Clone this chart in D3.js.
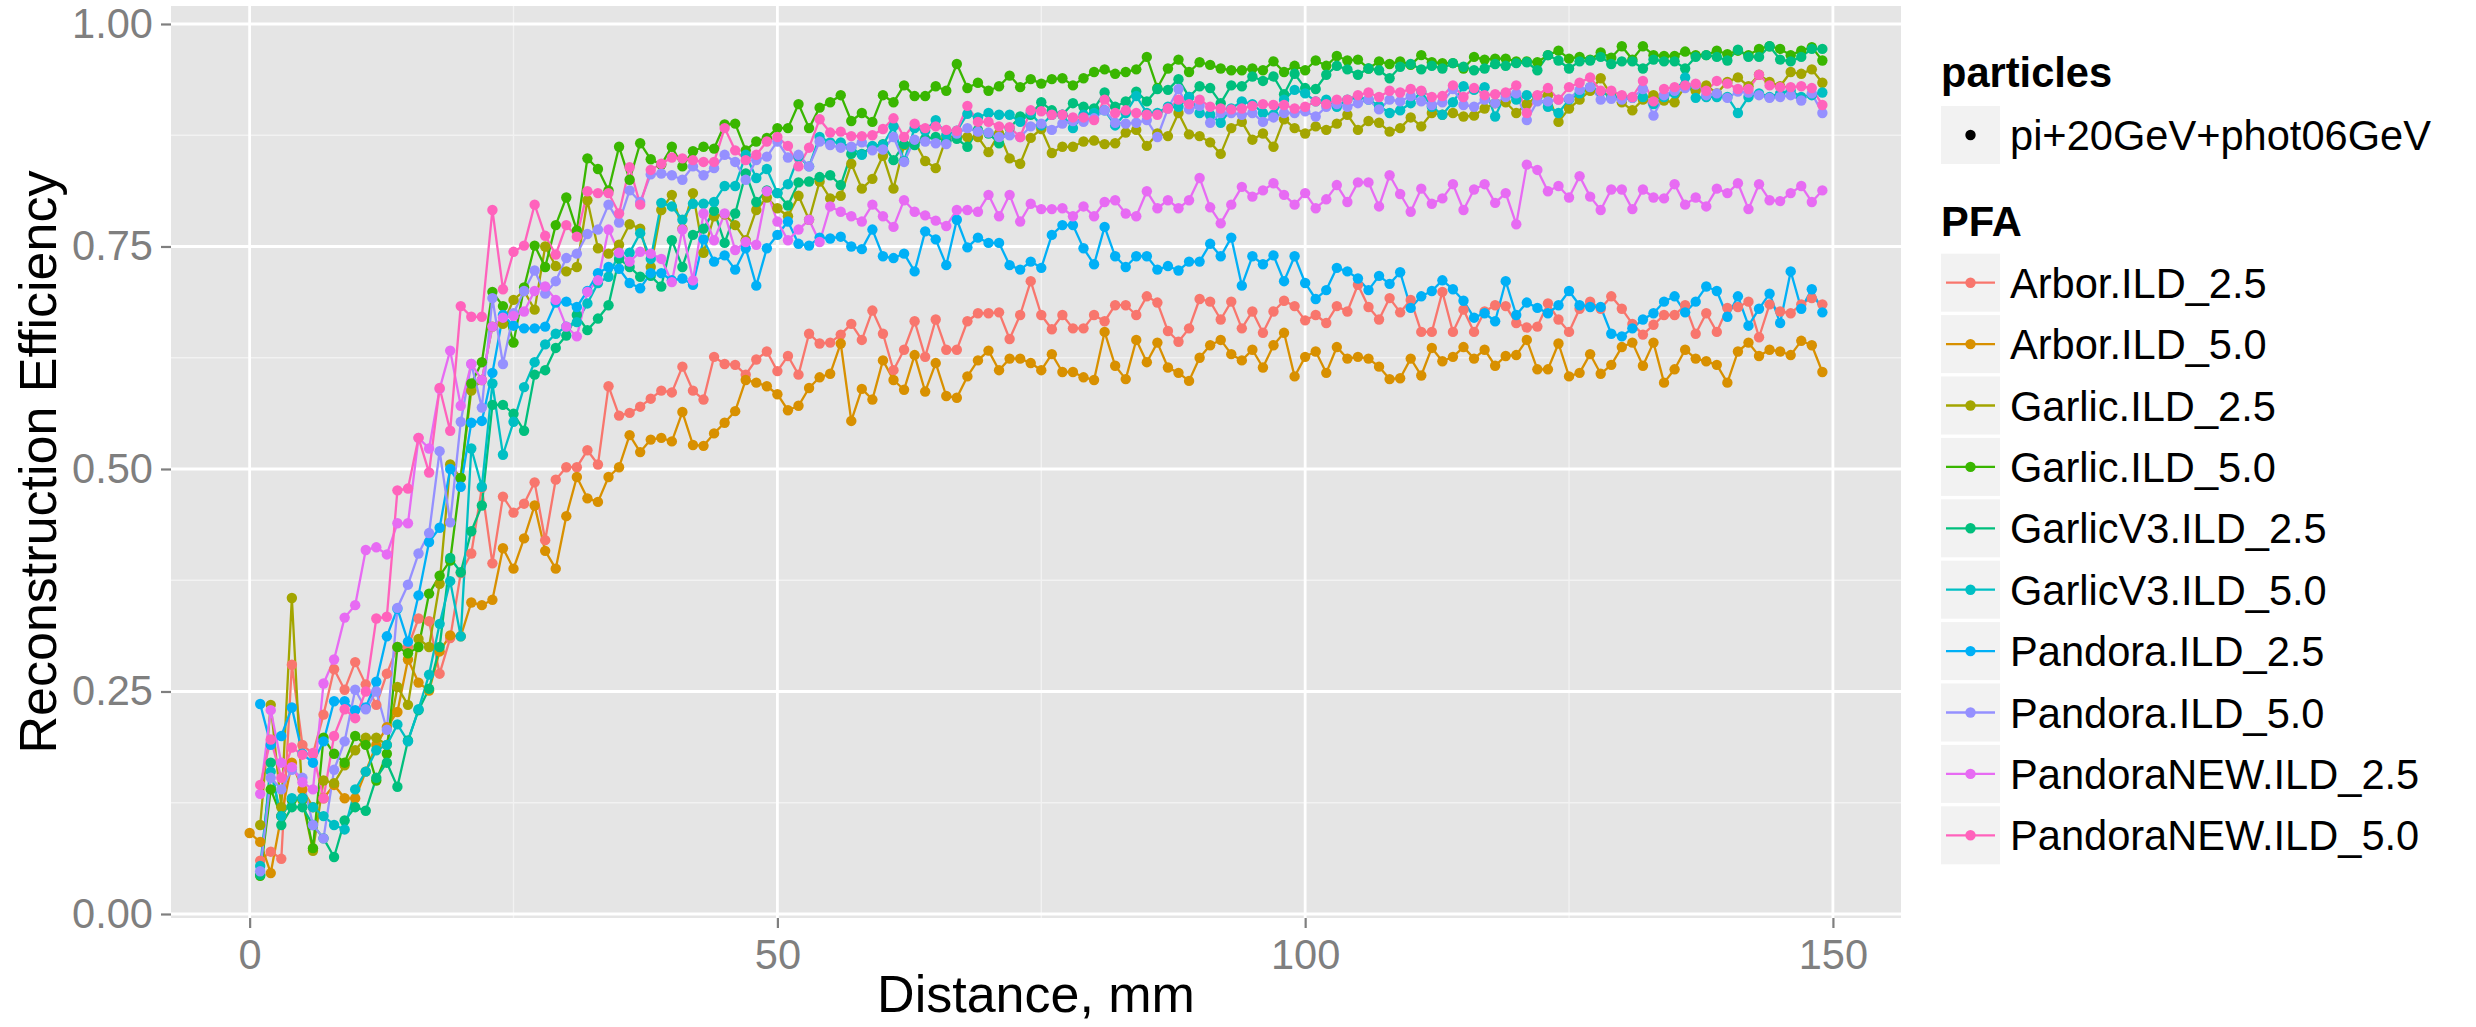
<!DOCTYPE html>
<html>
<head>
<meta charset="utf-8">
<script src="https://cdn.jsdelivr.net/npm/d3@7"></script>
<style>
  html, body { margin: 0; padding: 0; background: #ffffff; }
  svg { display: block; font-family: "Liberation Sans", Arial, Helvetica, sans-serif; }
</style>
</head>
<body>
<svg id="chart" width="2476" height="1027"></svg>
<script>
// Reconstruction efficiency versus distance (mm), one value per mm from 0 to 149.
// A null entry means the series has no point at that distance.
const arborILD25 = [null,
  .06,.07,.062,.28,.19,.18,.224,.275,.252,
  .283,.258,.235,.27,.30,.30,.332,.329,.27,.31,
  .383,.405,.479,.394,.469,.451,.461,.485,.42,.488,
  .502,.502,.521,.505,.593,.56,.563,.57,.579,.588,
  .586,.615,.588,.578,.626,.618,.617,.606,.623,.632,
  .61,.627,.606,.652,.641,.642,.651,.663,.645,.678,
  .652,.611,.634,.666,.626,.668,.634,.634,.666,.675,
  .675,.676,.646,.673,.711,.673,.657,.673,.658,.658,
  .673,.666,.684,.684,.673,.694,.687,.655,.643,.658,
  .691,.688,.668,.688,.658,.677,.653,.677,.689,.683,
  .667,.673,.664,.683,.677,.707,.682,.668,.692,.676,
  .69,.654,.654,.699,.654,.679,.654,.677,.684,.683,
  .664,.659,.66,.686,.668,.654,.68,.688,.68,.694,
  .68,.663,.651,.662,.673,.673,.684,.652,.675,.654,
  .681,.682,.688,.648,.685,.677,.675,.685,.692,.685];

const arborILD50 = [
  .091,.081,.046,.11,.17,.14,.12,.13,.145,.13,
  .13,.16,.19,.21,.227,.286,.26,.251,.295,.313,
  .312,.35,.347,.353,.411,.388,.422,.459,.408,.388,
  .447,.491,.467,.463,.491,.502,.538,.519,.533,.535,
  .531,.564,.527,.526,.54,.552,.565,.60,.597,.593,
  .584,.566,.571,.591,.603,.607,.641,.554,.59,.578,
  .622,.60,.589,.628,.587,.619,.582,.58,.604,.622,
  .633,.611,.624,.624,.619,.611,.629,.609,.609,.603,
  .60,.654,.616,.601,.645,.62,.642,.614,.608,.599,
  .625,.639,.645,.629,.622,.634,.614,.639,.653,.604,
  .626,.632,.608,.637,.624,.626,.624,.615,.601,.602,
  .624,.605,.636,.621,.626,.637,.624,.634,.616,.627,
  .628,.645,.612,.612,.641,.604,.608,.629,.607,.617,
  .637,.642,.616,.642,.597,.612,.634,.624,.621,.617,
  .597,.632,.642,.627,.634,.632,.628,.644,.639,.609];

const garlicILD25 = [null,
  .10,.235,.12,.355,.128,.071,.15,.147,.167,
  .184,.198,.198,.19,.255,.235,.309,.30,.371,.505,
  .49,.588,.60,.66,.663,.69,.70,.679,.75,.728,
  .722,.727,.802,.748,.742,.752,.775,.77,.727,.791,
  .808,.77,.81,.743,.784,.786,.774,.757,.791,.805,
  .793,.784,.807,.78,.823,.804,.807,.843,.815,.826,
  .852,.815,.864,.868,.846,.838,.872,.874,.873,.873,
  .856,.877,.849,.843,.872,.882,.855,.862,.862,.868,
  .869,.865,.866,.878,.881,.863,.877,.874,.90,.876,
  .874,.867,.854,.883,.89,.87,.877,.862,.893,.883,
  .877,.885,.881,.888,.898,.881,.891,.889,.879,.883,
  .895,.885,.90,.898,.90,.896,.897,.905,.911,.912,
  .90,.91,.919,.92,.89,.905,.915,.925,.939,.92,
  .912,.903,.915,.92,.914,.912,.93,.925,.931,.922,
  .935,.94,.93,.943,.935,.93,.946,.944,.949,.934];

const garlicILD50 = [null,
  .043,.14,.11,.128,.13,.074,.198,.18,.17,
  .20,.19,.15,.18,.30,.293,.30,.36,.38,.397,
  .49,.596,.62,.699,.683,.642,.704,.751,.727,.774,
  .805,.768,.849,.837,.813,.862,.825,.866,.848,.842,
  .862,.84,.857,.862,.86,.887,.888,.858,.868,.872,
  .883,.883,.91,.883,.906,.912,.92,.891,.90,.89,
  .92,.912,.931,.919,.919,.93,.925,.955,.928,.934,
  .925,.93,.942,.929,.938,.933,.938,.939,.931,.939,
  .946,.949,.944,.946,.949,.963,.928,.95,.96,.946,
  .957,.954,.95,.948,.948,.95,.948,.958,.946,.953,
  .948,.959,.953,.964,.959,.96,.95,.958,.955,.958,
  .954,.965,.957,.956,.956,.95,.963,.96,.961,.961,
  .958,.958,.957,.965,.97,.961,.963,.96,.968,.962,
  .975,.96,.975,.965,.964,.964,.969,.965,.965,.97,
  .966,.97,.965,.972,.975,.972,.965,.97,.974,.959];

const garlicV3ILD25 = [null,
  .044,.17,.10,.12,.12,.10,.085,.064,.105,
  .12,.116,.153,.17,.143,.195,.229,.253,.30,.40,
  .384,.43,.459,.572,.572,.562,.543,.606,.611,.636,
  .65,.673,.656,.669,.684,.736,.727,.716,.717,.705,
  .757,.727,.763,.77,.79,.754,.787,.832,.80,.813,
  .81,.796,.822,.823,.828,.83,.819,.854,.854,.862,
  .865,.847,.865,.864,.871,.873,.868,.871,.862,.881,
  .877,.866,.883,.896,.898,.912,.903,.898,.911,.907,
  .905,.923,.907,.913,.924,.913,.927,.926,.938,.918,
  .93,.928,.911,.931,.93,.941,.936,.941,.921,.944,
  .928,.927,.943,.953,.949,.943,.95,.948,.939,.952,
  .955,.949,.953,.95,.956,.952,.948,.95,.955,.953,
  .956,.957,.948,.965,.959,.95,.958,.959,.963,.955,
  .958,.958,.95,.96,.958,.958,.95,.963,.965,.963,
  .959,.971,.963,.963,.975,.96,.958,.963,.972,.972];

const garlicV3ILD50 = [null,
  .054,.16,.11,.13,.13,.12,.11,.10,.095,
  .14,.16,.184,.19,.213,.194,.23,.269,.326,.374,
  .312,.523,.48,.596,.516,.553,.592,.62,.64,.652,
  .66,.665,.686,.709,.716,.742,.743,.765,.736,.799,
  .795,.78,.798,.798,.80,.818,.818,.853,.827,.837,
  .81,.82,.851,.84,.873,.867,.867,.861,.853,.863,
  .864,.885,.846,.883,.88,.892,.875,.88,.899,.895,
  .90,.898,.898,.89,.90,.886,.898,.898,.883,.898,
  .90,.903,.886,.90,.919,.90,.90,.907,.907,.918,
  .90,.898,.889,.905,.913,.91,.90,.898,.915,.926,
  .922,.913,.915,.907,.915,.918,.915,.908,.90,.903,
  .911,.924,.907,.898,.912,.93,.926,.929,.896,.922,
  .915,.92,.918,.907,.90,.915,.922,.929,.924,.918,
  .918,.917,.918,.91,.918,.922,.94,.917,.918,.918,
  .918,.90,.918,.922,.918,.922,.925,.918,.92,.923];

const pandoraILD25 = [null,
  .236,.19,.20,.232,.18,.17,.194,.239,.239,
  .229,.232,.261,.312,.343,.306,.358,.418,.434,.50,
  .48,.552,.554,.608,.673,.661,.658,.658,.66,.687,
  .688,.682,.70,.72,.727,.725,.709,.703,.72,.72,
  .712,.714,.707,.758,.733,.74,.724,.748,.706,.748,
  .763,.778,.753,.751,.76,.759,.761,.75,.747,.769,
  .739,.737,.742,.722,.767,.758,.729,.78,.749,.76,
  .754,.754,.729,.724,.733,.726,.763,.774,.774,.748,
  .73,.772,.739,.727,.739,.739,.724,.728,.723,.733,
  .733,.753,.739,.76,.706,.739,.73,.74,.711,.739,
  .709,.691,.701,.726,.722,.714,.701,.717,.708,.721,
  .681,.694,.70,.712,.702,.689,.67,.675,.666,.711,
  .673,.687,.681,.675,.684,.70,.684,.682,.682,.652,
  .649,.658,.668,.675,.688,.694,.676,.688,.705,.70,
  .671,.694,.661,.68,.697,.664,.722,.68,.702,.676];

const pandoraILD50 = [null,
  .048,.153,.14,.162,.153,.10,.085,.162,.194,
  .252,.23,.25,.207,.344,.37,.405,.428,.52,.44,
  .553,.618,.569,.692,.618,.675,.70,.723,.697,.711,
  .737,.742,.764,.769,.797,.777,.813,.80,.831,.832,
  .83,.825,.84,.83,.838,.853,.845,.825,.847,.851,
  .868,.85,.853,.84,.868,.864,.861,.862,.867,.858,
  .859,.873,.845,.87,.868,.866,.865,.877,.883,.879,
  .878,.873,.875,.873,.885,.888,.881,.888,.891,.89,
  .894,.903,.889,.888,.889,.892,.873,.905,.927,.904,
  .908,.889,.90,.90,.898,.90,.89,.895,.90,.90,
  .902,.896,.907,.91,.907,.911,.915,.904,.915,.913,
  .919,.913,.909,.912,.927,.909,.907,.915,.911,.918,
  .922,.892,.913,.913,.915,.916,.926,.929,.915,.916,
  .915,.917,.927,.897,.92,.925,.928,.932,.92,.922,
  .917,.924,.923,.92,.917,.918,.92,.914,.922,.90];

const pandoraNewILD25 = [null,
  .135,.229,.17,.165,.148,.14,.259,.286,.333,
  .347,.409,.412,.404,.439,.439,.535,.523,.59,.633,
  .571,.618,.60,.66,.67,.672,.677,.70,.705,.69,
  .66,.649,.699,.712,.769,.743,.733,.744,.742,.736,
  .71,.769,.712,.787,.757,.787,.746,.755,.752,.812,
  .778,.757,.769,.78,.755,.795,.789,.784,.778,.797,
  .784,.772,.802,.789,.785,.779,.773,.791,.791,.789,
  .808,.784,.808,.778,.798,.792,.792,.793,.784,.795,
  .784,.80,.802,.787,.784,.812,.793,.802,.793,.802,
  .827,.794,.776,.797,.817,.806,.813,.821,.808,.797,
  .81,.793,.803,.819,.80,.822,.822,.795,.83,.809,
  .789,.815,.798,.804,.82,.791,.814,.82,.799,.81,
  .775,.842,.836,.812,.818,.805,.829,.806,.791,.814,
  .814,.792,.814,.805,.804,.82,.797,.805,.795,.815,
  .81,.821,.792,.82,.802,.801,.81,.818,.80,.813];

const pandoraNewILD50 = [null,
  .145,.196,.153,.187,.179,.181,.13,.20,.23,
  .22,.25,.332,.334,.476,.478,.535,.496,.591,.543,
  .683,.671,.671,.791,.702,.744,.751,.797,.762,.741,
  .774,.761,.812,.81,.81,.787,.839,.797,.836,.843,
  .85,.849,.847,.845,.845,.883,.858,.847,.853,.868,
  .873,.863,.84,.861,.893,.878,.879,.874,.874,.875,
  .882,.894,.873,.888,.883,.885,.881,.88,.908,.89,
  .89,.885,.884,.873,.903,.902,.898,.898,.895,.895,
  .892,.915,.90,.903,.90,.898,.898,.905,.915,.91,
  .915,.907,.905,.904,.905,.908,.91,.909,.909,.905,
  .907,.913,.91,.915,.915,.92,.923,.918,.925,.923,
  .927,.925,.918,.919,.931,.918,.928,.92,.921,.923,
  .931,.90,.92,.928,.915,.929,.934,.94,.925,.925,
  .92,.918,.936,.913,.927,.929,.931,.933,.925,.936,
  .933,.927,.927,.943,.931,.929,.929,.93,.928,.909];

// Legend / category names and their hue colours
const pfaLevels = ["Arbor.ILD_2.5", "Arbor.ILD_5.0", "Garlic.ILD_2.5", "Garlic.ILD_5.0",
  "GarlicV3.ILD_2.5", "GarlicV3.ILD_5.0", "Pandora.ILD_2.5", "Pandora.ILD_5.0",
  "PandoraNEW.ILD_2.5", "PandoraNEW.ILD_5.0"];
const pfaColors = ["#F8766D", "#D89000", "#A3A500", "#39B600", "#00BF7D",
  "#00BFC4", "#00B0F6", "#9590FF", "#E76BF3", "#FF62BC"];
const particleLevels = ["pi+20GeV+phot06GeV"];

// Axis ticks
const xTicks = [0, 50, 100, 150];
const xMinorTicks = [25, 75, 125];
const yTicks = [0, 0.25, 0.5, 0.75, 1.0];
const yTickLabels = ["0.00", "0.25", "0.50", "0.75", "1.00"];
const yMinorTicks = [0.125, 0.375, 0.625, 0.875];

const seriesValues = [arborILD25, arborILD50, garlicILD25, garlicILD50, garlicV3ILD25,
  garlicV3ILD50, pandoraILD25, pandoraILD50, pandoraNewILD25, pandoraNewILD50];

const series = pfaLevels.map((name, i) => ({
  name,
  color: pfaColors[i],
  points: seriesValues[i].map((v, d) => ({ d, v })).filter(p => p.v !== null)
}));

// ---- layout ----
const panel = { left: 171, right: 1901, top: 6, bottom: 918 };
const base = 52;
const small = base * 0.8;

const svg = d3.select("#chart");
svg.append("rect").attr("width", 2476).attr("height", 1027).attr("fill", "#ffffff");

const x = d3.scaleLinear().domain([-7.45, 156.45]).range([panel.left, panel.right]);
const y = d3.scaleLinear().domain([-0.0045, 1.0202]).range([panel.bottom, panel.top]);

// panel background
svg.append("rect")
  .attr("x", panel.left).attr("y", panel.top)
  .attr("width", panel.right - panel.left).attr("height", panel.bottom - panel.top)
  .attr("fill", "#E5E5E5");

const grid = svg.append("g");
// minor grid
grid.selectAll("line.ymin").data(yMinorTicks).join("line")
  .attr("x1", panel.left).attr("x2", panel.right)
  .attr("y1", d => y(d)).attr("y2", d => y(d))
  .attr("stroke", "#F2F2F2").attr("stroke-width", 1.4);
grid.selectAll("line.xmin").data(xMinorTicks).join("line")
  .attr("y1", panel.top).attr("y2", panel.bottom)
  .attr("x1", d => x(d)).attr("x2", d => x(d))
  .attr("stroke", "#F2F2F2").attr("stroke-width", 1.4);
// major grid
grid.selectAll("line.ymaj").data(yTicks).join("line")
  .attr("x1", panel.left).attr("x2", panel.right)
  .attr("y1", d => y(d)).attr("y2", d => y(d))
  .attr("stroke", "#FFFFFF").attr("stroke-width", 2.8);
grid.selectAll("line.xmaj").data(xTicks).join("line")
  .attr("y1", panel.top).attr("y2", panel.bottom)
  .attr("x1", d => x(d)).attr("x2", d => x(d))
  .attr("stroke", "#FFFFFF").attr("stroke-width", 2.8);

// lines first, then points, in factor order
const line = d3.line().x(p => x(p.d)).y(p => y(p.v));
const plot = svg.append("g");
plot.selectAll("path.series").data(series).join("path")
  .attr("class", "series")
  .attr("d", s => line(s.points))
  .attr("fill", "none")
  .attr("stroke", s => s.color)
  .attr("stroke-width", 2.3)
  .attr("stroke-linejoin", "round");

series.forEach(s => {
  plot.append("g").selectAll("circle").data(s.points).join("circle")
    .attr("cx", p => x(p.d)).attr("cy", p => y(p.v))
    .attr("r", 5.2).attr("fill", s.color);
});

// axes
const yAxis = d3.axisLeft(y).tickValues(yTicks)
  .tickFormat((d, i) => yTickLabels[i]).tickSize(10).tickPadding(8);
const gy = svg.append("g").attr("transform", `translate(${panel.left},0)`).call(yAxis);
const xAxis = d3.axisBottom(x).tickValues(xTicks).tickFormat(d3.format("d"))
  .tickSize(10).tickPadding(11);
const gx = svg.append("g").attr("transform", `translate(0,${panel.bottom})`).call(xAxis);
[gx, gy].forEach(g => {
  g.select(".domain").remove();
  g.selectAll(".tick line").attr("stroke", "#7F7F7F").attr("stroke-width", 2.2);
  g.selectAll(".tick text")
    .attr("fill", "#7F7F7F")
    .style("font-size", small + "px")
    .style("font-family", '"Liberation Sans", Arial, sans-serif');
});

// axis titles
svg.append("text")
  .attr("x", (panel.left + panel.right) / 2).attr("y", 1012)
  .attr("text-anchor", "middle")
  .style("font-size", base + "px").attr("fill", "#000")
  .text("Distance, mm");
svg.append("text")
  .attr("transform", `translate(56,${(panel.top + panel.bottom) / 2}) rotate(-90)`)
  .attr("text-anchor", "middle")
  .style("font-size", base + "px").attr("fill", "#000")
  .text("Reconstruction Efficiency");

// ---- legends ----
const lg = svg.append("g");
const keyX = 1941, keyW = 59, keyH = 58, labelX = 2010;

lg.append("text").attr("x", keyX).attr("y", 87)
  .style("font-size", small + "px").style("font-weight", "bold")
  .text("particles");
particleLevels.forEach((p, i) => {
  const top = 106 + i * 61.4;
  lg.append("rect").attr("x", keyX).attr("y", top).attr("width", keyW).attr("height", keyH)
    .attr("fill", "#F2F2F2");
  lg.append("circle").attr("cx", keyX + keyW / 2).attr("cy", top + keyH / 2).attr("r", 5.2)
    .attr("fill", "#000");
  lg.append("text").attr("x", labelX).attr("y", top + keyH / 2 + 15)
    .style("font-size", small + "px").text(p);
});

lg.append("text").attr("x", keyX).attr("y", 236)
  .style("font-size", small + "px").style("font-weight", "bold")
  .text("PFA");
const rows = lg.selectAll("g.pfa").data(series).join("g")
  .attr("class", "pfa")
  .attr("transform", (s, i) => `translate(${keyX},${253.7 + i * 61.4})`);
rows.append("rect").attr("width", keyW).attr("height", keyH).attr("fill", "#F2F2F2");
rows.append("line")
  .attr("x1", 5).attr("x2", keyW - 5)
  .attr("y1", keyH / 2).attr("y2", keyH / 2)
  .attr("stroke", s => s.color).attr("stroke-width", 2.3);
rows.append("circle").attr("cx", keyW / 2).attr("cy", keyH / 2).attr("r", 5.2)
  .attr("fill", s => s.color);
rows.append("text").attr("x", labelX - keyX).attr("y", keyH / 2 + 15)
  .style("font-size", small + "px").text(s => s.name);
</script>
</body>
</html>
